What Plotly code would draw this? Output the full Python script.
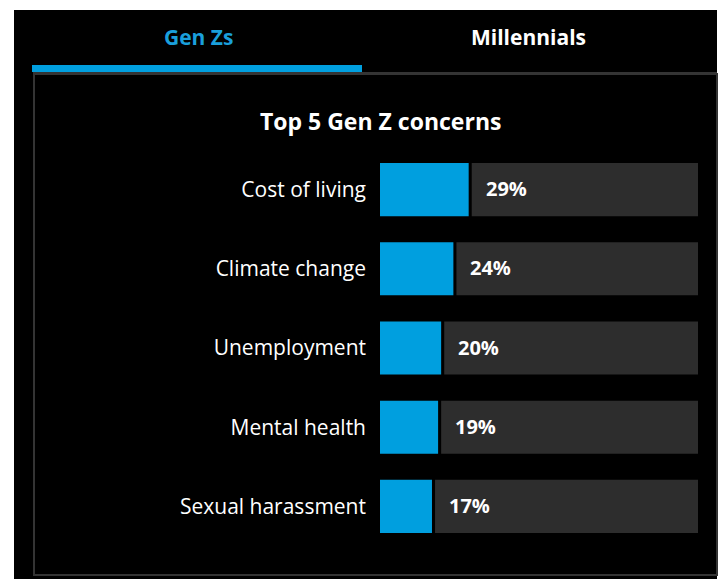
import plotly.graph_objects as go

categories = ["Cost of living", "Climate change", "Unemployment", "Mental health", "Sexual harassment"]
values = [29, 24, 20, 19, 17]
value_labels = ["29%", "24%", "20%", "19%", "17%"]
tabs = ["Gen Zs", "Millennials"]
title_text = "Top 5 Gen Z concerns"

W, H = 724, 579
L, R, T, B = 380, 26, 150, 33
PW, PH = W - L - R, H - T - B
XMAX = 104
GAP = 1.0

BLUE = "#009fdf"
TRACK = "#2d2d2d"
BORDER = "#343434"
FONT = "Open Sans"


def px(x):
    return (x - L) / PW


def py(y):
    return (H - B - y) / PH


fig = go.Figure()
# background track
fig.add_trace(go.Bar(
    y=categories, x=[XMAX - v - GAP for v in values], base=[v + GAP for v in values],
    orientation="h", marker=dict(color=TRACK, line=dict(width=0)),
    width=0.67, hoverinfo="skip", showlegend=False,
))
fig.add_trace(go.Bar(
    y=categories, x=values, orientation="h",
    marker=dict(color=BLUE, line=dict(width=0)),
    width=0.67, showlegend=False,
))

for c, v, t in zip(categories, values, value_labels):
    fig.add_annotation(x=v, y=c, text="<b>" + t + "</b>", showarrow=False,
                       xanchor="left", yanchor="middle", xshift=15, yshift=1,
                       font=dict(family=FONT, size=20, color="white"))

shapes = []
# black card on white page
shapes.append(dict(type="rect", xref="paper", yref="paper", layer="below",
                   x0=px(14), x1=px(717), y0=py(10), y1=py(579),
                   fillcolor="black", line=dict(width=0)))
# panel border
shapes.append(dict(type="rect", xref="paper", yref="paper", layer="below",
                   x0=px(34), x1=px(717), y0=py(74), y1=py(575),
                   fillcolor="black", line=dict(color=BORDER, width=2)))
# tab baseline
shapes.append(dict(type="rect", xref="paper", yref="paper", layer="below",
                   x0=px(33), x1=px(717), y0=py(72), y1=py(75),
                   fillcolor=BORDER, line=dict(width=0)))
# active tab underline
shapes.append(dict(type="rect", xref="paper", yref="paper", layer="below",
                   x0=px(32), x1=px(362), y0=py(65), y1=py(72),
                   fillcolor=BLUE, line=dict(width=0)))

fig.add_annotation(xref="paper", yref="paper", x=px(198), y=py(37), text="<b>" + tabs[0] + "</b>",
                   showarrow=False, xanchor="center", yanchor="middle",
                   font=dict(family=FONT, size=21, color="#1a9fdb"))
fig.add_annotation(xref="paper", yref="paper", x=px(528), y=py(37), text="<b>" + tabs[1] + "</b>",
                   showarrow=False, xanchor="center", yanchor="middle",
                   font=dict(family=FONT, size=21, color="white"))
fig.add_annotation(xref="paper", yref="paper", x=px(380), y=py(121), text="<b>" + title_text + "</b>",
                   showarrow=False, xanchor="center", yanchor="middle",
                   font=dict(family=FONT, size=23, color="white"))

fig.update_layout(
    width=W, height=H, margin=dict(l=L, r=R, t=T, b=B),
    paper_bgcolor="white", plot_bgcolor="rgba(0,0,0,0)",
    barmode="overlay", shapes=shapes,
    xaxis=dict(range=[0, XMAX], visible=False, fixedrange=True),
    yaxis=dict(autorange="reversed", showgrid=False, zeroline=False, showline=False,
               ticks="", ticklabelstandoff=13,
               tickfont=dict(family=FONT, size=21, color="white"), fixedrange=True),
    font=dict(family=FONT),
)

fig.write_html("out.html", config={"displayModeBar": False})
